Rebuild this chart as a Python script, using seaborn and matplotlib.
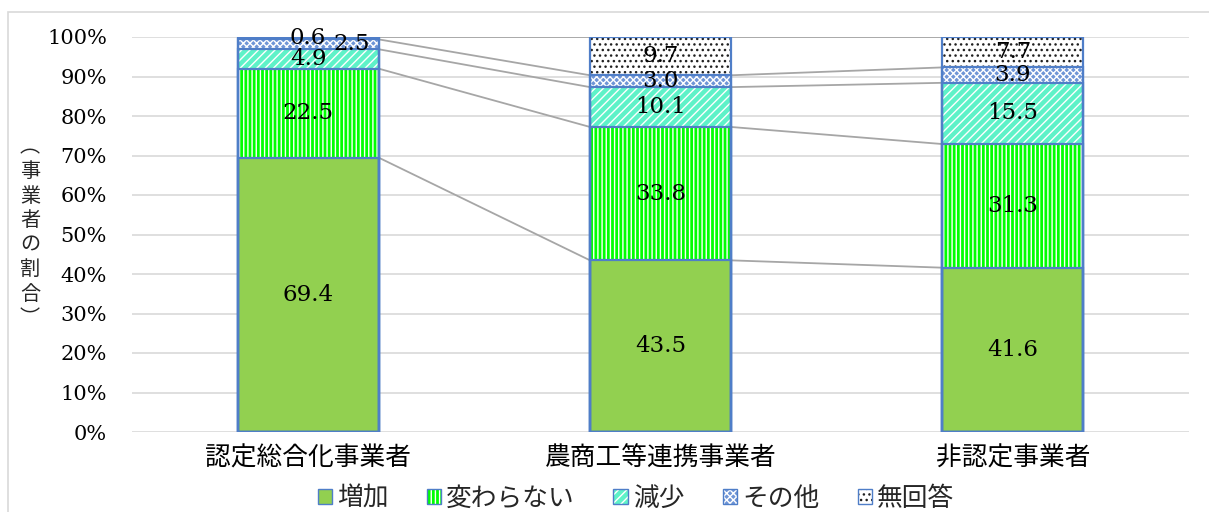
import matplotlib
matplotlib.use("Agg")
import matplotlib.pyplot as plt
from matplotlib.patches import Patch, Rectangle
import numpy as np
import pandas as pd
import seaborn as sns

# Categories and survey shares (%)
categories = ["認定総合化事業者", "農商工等連携事業者", "非認定事業者"]
series_names = ["増加", "変わらない", "減少", "その他", "無回答"]
increase = [69.4, 43.5, 41.6]
unchanged = [22.5, 33.8, 31.3]
decrease = [4.9, 10.1, 15.5]
other = [2.5, 3.0, 3.9]
no_answer = [0.6, 9.7, 7.7]
y_ticks = [0, 10, 20, 30, 40, 50, 60, 70, 80, 90, 100]

sns.set_theme(style="white")
plt.rcParams["font.family"] = ["Noto Sans CJK JP", "DejaVu Sans"]
plt.rcParams["hatch.linewidth"] = 1.0

# face colour, hatch colour, hatch pattern per series
styles = [
    ("#92D050", "#92D050", None),
    ("#00FF00", "white", "||||"),
    ("#5EF2C8", "white", "////"),
    ("#6F95D6", "white", "xxxxx"),
    ("white", "#202020", "..."),
]
outline = "#4F7EC8"
bar_w = 0.4

values = np.array([increase, unchanged, decrease, other, no_answer], dtype=float)
# 100% stacked: normalise each category to its total
shares = values / values.sum(axis=0) * 100
cum = np.cumsum(shares, axis=0)

fig = plt.figure(figsize=(12.09, 5.12), dpi=100)
ax = fig.add_axes([132 / 1209, 1 - 432 / 512, 1057 / 1209, 395 / 512])

# stacked bars: draw cumulative totals from the top layer down
for k in range(len(series_names) - 1, -1, -1):
    face, hcol, hatch = styles[k]
    df = pd.DataFrame({"cat": categories, "top": cum[k]})
    sns.barplot(data=df, x="cat", y="top", ax=ax, color=face, saturation=1,
                edgecolor=hcol, hatch=hatch, linewidth=0, width=bar_w,
                order=categories, zorder=2)
    sns.barplot(data=df, x="cat", y="top", ax=ax, facecolor="none", saturation=1,
                edgecolor=outline, linewidth=1.6, width=bar_w,
                order=categories, zorder=3)

# series lines between neighbouring bars
for k in range(len(series_names)):
    for i in range(len(categories) - 1):
        ax.plot([i + bar_w / 2, i + 1 - bar_w / 2], [cum[k][i], cum[k][i + 1]],
                color="#A6A6A6", lw=1.3, zorder=1)

# value labels centred in each segment
label_font = dict(family="DejaVu Serif", fontsize=16.5, color="black")
for k in range(len(series_names)):
    for i in range(len(categories)):
        center = cum[k][i] - shares[k][i] / 2
        dx = 31 if (k == 3 and i == 0) else 0
        ax.annotate(f"{values[k][i]:.1f}", (i, center), xytext=(dx, 0),
                    textcoords="offset points", ha="center", va="center",
                    zorder=5, **label_font)

ax.set_ylim(0, 100)
ax.set_xlim(-0.5, 2.5)
ax.set_yticks(y_ticks)
ax.set_yticklabels([f"{t}%" for t in y_ticks], family="DejaVu Serif", fontsize=15)
ax.set_xticks(range(len(categories)))
ax.set_xticklabels(categories, fontsize=18.5)
ax.tick_params(axis="y", length=0, pad=18, colors="black")
ax.tick_params(axis="x", length=0, pad=10, colors="black")
ax.yaxis.grid(True, color="#D9D9D9", lw=1.2, zorder=0)
ax.set_axisbelow(True)
ax.set_xlabel("")
ax.set_ylabel("")
for s in ax.spines.values():
    s.set_visible(False)

fig.text(30 / 1209, 1 - 233 / 512, "︵\n事\n業\n者\nの\n割\n合\n︶", ha="center",
         va="center", fontsize=14.5, linespacing=1.22)

handles = [Patch(facecolor=f, edgecolor=outline, hatch=h, lw=1.0) for f, _, h in styles]
# hatch colour for legend swatches
for hdl, (f, hc, h) in zip(handles, styles):
    if h:
        hdl._hatch_color = matplotlib.colors.to_rgba(hc)
leg = fig.legend(handles, series_names, loc="center", bbox_to_anchor=(0.526, 0.026),
                 ncol=5, frameon=False, fontsize=18.5, handlelength=0.55,
                 handleheight=0.55, handletextpad=0.2, columnspacing=1.5,
                 borderpad=0.1)

fig.add_artist(Rectangle((8 / 1209, -0.1), 1.2, 0.1 + 1 - 12 / 512,
                         transform=fig.transFigure, fill=False,
                         edgecolor="#D9D9D9", lw=1.2))

fig.savefig("out.png", dpi=100)
